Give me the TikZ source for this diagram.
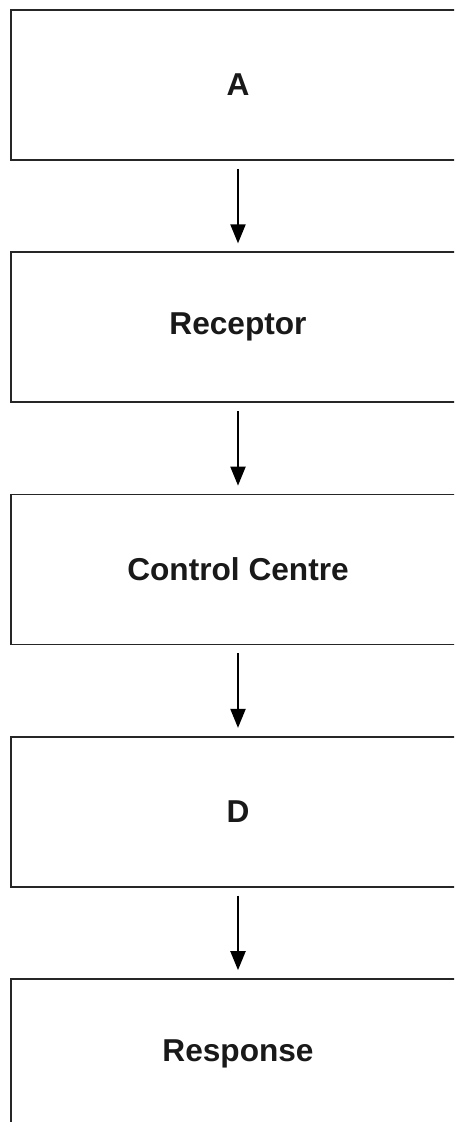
\documentclass[tikz,border=0pt]{standalone}
\usepackage{fontspec}
\setmainfont{Liberation Sans}
\usetikzlibrary{positioning, arrows.meta}

\tikzset{
  stagebox/.style={draw=black!85, line width=1pt, minimum width=9.08cm, minimum height=3cm,
    inner sep=0pt, font=\fontsize{18}{21}\selectfont\bfseries, text=black!90},
  flowarrow/.style={line width=1.2pt, shorten <=0.16cm, shorten >=0.16cm,
    -{Triangle[length=3.8mm, width=3mm]}}
}

\begin{document}
\begin{tikzpicture}
\useasboundingbox (0,0) rectangle (9.08,-22.44);
\clip (0,0) rectangle (9.08,-22.44);

\node[stagebox] (stimulus) at (4.76,-1.7) {A};
\node[stagebox, below=1.81cm of stimulus] (receptor) {Receptor};
\node[stagebox, below=1.81cm of receptor] (control) {Control Centre};
\node[stagebox, below=1.81cm of control] (effector) {D};
\node[stagebox, below=1.81cm of effector] (response) {Response};

\draw[flowarrow] (stimulus) -- (receptor);
\draw[flowarrow] (receptor) -- (control);
\draw[flowarrow] (control) -- (effector);
\draw[flowarrow] (effector) -- (response);

\end{tikzpicture}
\end{document}
